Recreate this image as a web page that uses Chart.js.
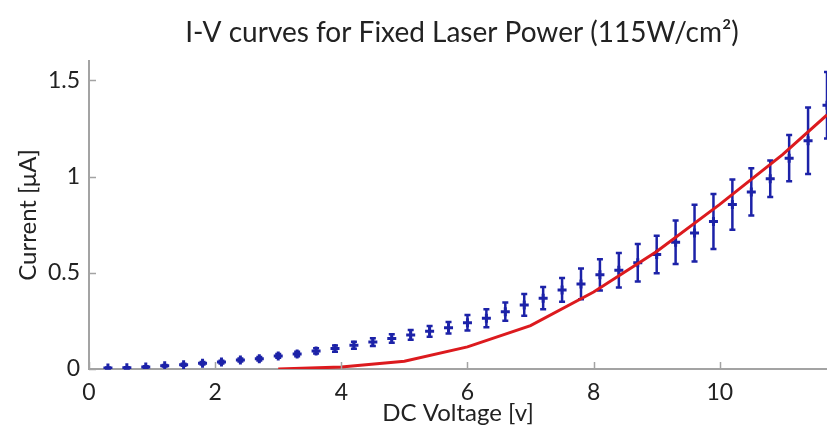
<!DOCTYPE html>
<html>
<head>
<meta charset="utf-8">
<title>I-V curves</title>
<script src="https://cdn.jsdelivr.net/npm/chart.js@4/dist/chart.umd.min.js"></script>
<style>
  html, body { margin: 0; padding: 0; background: #fff; }
  #chIV { display: block; }
</style>
</head>
<body>
<canvas id="chIV" width="827" height="435"></canvas>
<script>
// Medidas: corriente media y desviación por cada voltaje (pasos de 0.3 V)
const voltajes = [
  0.3, 0.6, 0.9, 1.2, 1.5, 1.8, 2.1, 2.4, 2.7, 3.0,
  3.3, 3.6, 3.9, 4.2, 4.5, 4.8, 5.1, 5.4, 5.7, 6.0,
  6.3, 6.6, 6.9, 7.2, 7.5, 7.8, 8.1, 8.4, 8.7, 9.0,
  9.3, 9.6, 9.9, 10.2, 10.5, 10.8, 11.1, 11.4, 11.7
];
const corrienteMedida = [
  0.005, 0.006, 0.010, 0.017, 0.022, 0.030, 0.036, 0.047, 0.053, 0.068,
  0.078, 0.094, 0.106, 0.123, 0.140, 0.158, 0.177, 0.196, 0.214, 0.240,
  0.264, 0.298, 0.333, 0.368, 0.411, 0.442, 0.489, 0.513, 0.552, 0.595,
  0.659, 0.706, 0.766, 0.854, 0.920, 0.988, 1.095, 1.186, 1.370
];
const errorMedida = [
  0.003, 0.003, 0.004, 0.004, 0.005, 0.006, 0.007, 0.008, 0.009, 0.010,
  0.012, 0.014, 0.016, 0.018, 0.020, 0.022, 0.025, 0.028, 0.030, 0.040,
  0.047, 0.047, 0.056, 0.058, 0.062, 0.080, 0.081, 0.090, 0.097, 0.097,
  0.113, 0.147, 0.143, 0.130, 0.123, 0.095, 0.120, 0.173, 0.173
];

// Curva del modelo
const voltajesModelo = [3, 4, 5, 6, 7, 8, 9, 10, 11, 11.7];
const corrienteModelo = [0, 0.01, 0.04, 0.115, 0.225, 0.40, 0.61, 0.855, 1.115, 1.32];

const xTicks = [0, 2, 4, 6, 8, 10];
const yTicks = [0, 0.5, 1, 1.5];

const AZUL = '#1c22a8';
const ROJO = '#dc1a1e';
const GRIS = '#a3a3a3';
const FUENTE = 'Lato, "Open Sans", sans-serif';

// Barras de error + ticks hacia adentro + título
const plugExtras = {
  id: 'extras',
  beforeDatasetsDraw(chart) {
    const { ctx, scales: { x, y } } = chart;
    ctx.save();
    ctx.strokeStyle = AZUL;
    ctx.lineWidth = 2.5;
    voltajes.forEach((v, i) => {
      const px = x.getPixelForValue(v);
      const top = y.getPixelForValue(corrienteMedida[i] + errorMedida[i]);
      const bot = y.getPixelForValue(corrienteMedida[i] - errorMedida[i]);
      ctx.beginPath();
      ctx.moveTo(px, top); ctx.lineTo(px, bot);
      ctx.moveTo(px - 3, top); ctx.lineTo(px + 3, top);
      ctx.moveTo(px - 3, bot); ctx.lineTo(px + 3, bot);
      ctx.stroke();
    });
    ctx.restore();
  },
  afterDraw(chart) {
    const { ctx, chartArea, scales: { x, y } } = chart;
    ctx.save();
    ctx.strokeStyle = GRIS;
    ctx.lineWidth = 1.5;
    ctx.beginPath();
    xTicks.forEach((v) => {
      const px = Math.round(x.getPixelForValue(v)) + 0.5;
      ctx.moveTo(px, chartArea.bottom); ctx.lineTo(px, chartArea.bottom - 7);
    });
    yTicks.forEach((v) => {
      const py = Math.round(y.getPixelForValue(v)) + 0.5;
      ctx.moveTo(chartArea.left, py); ctx.lineTo(chartArea.left + 7, py);
    });
    ctx.stroke();

    ctx.fillStyle = '#222';
    ctx.font = '28px ' + FUENTE;
    ctx.textAlign = 'center';
    ctx.textBaseline = 'middle';
    ctx.fillText('I-V curves for Fixed Laser Power (115W/cm²)',
      (chartArea.left + chartArea.right) / 2 + 4, 33);
    ctx.restore();
  }
};

const ptsMedida = voltajes.map((v, i) => ({ x: v, y: corrienteMedida[i] }));
const ptsModelo = voltajesModelo.map((v, i) => ({ x: v, y: corrienteModelo[i] }));

new Chart(document.getElementById('chIV'), {
  type: 'line',
  data: {
    datasets: [
      {
        label: 'Modelo',
        data: ptsModelo,
        borderColor: ROJO,
        borderWidth: 3,
        pointRadius: 0,
        tension: 0,
        order: 0
      },
      {
        label: 'Medida',
        data: ptsMedida,
        showLine: false,
        pointStyle: 'cross',
        pointRadius: 4.5,
        pointBorderWidth: 3,
        borderColor: AZUL,
        backgroundColor: AZUL,
        order: 1
      }
    ]
  },
  options: {
    responsive: false,
    animation: false,
    devicePixelRatio: 1,
    layout: { autoPadding: false, padding: { top: 61, right: 0, bottom: 0, left: 0 } },
    plugins: {
      legend: { display: false },
      tooltip: { enabled: false },
      title: { display: false }
    },
    scales: {
      x: {
        type: 'linear',
        min: 0,
        max: 11.7,
        afterBuildTicks: (s) => { s.ticks = xTicks.map((v) => ({ value: v })); },
        afterFit: (s) => { s.height = 66; },
        grid: { display: true, drawOnChartArea: false, drawTicks: false },
        border: { display: true, color: GRIS, width: 2 },
        ticks: { color: '#222', padding: 10, font: { family: FUENTE, size: 23 },
          callback: (v) => String(v) },
        title: {
          display: true,
          text: 'DC Voltage [v]',
          color: '#222',
          padding: { top: 0, bottom: 7 },
          font: { family: FUENTE, size: 24 }
        }
      },
      y: {
        type: 'linear',
        min: 0,
        max: 1.6,
        afterBuildTicks: (s) => { s.ticks = yTicks.map((v) => ({ value: v })); },
        afterFit: (s) => { s.width = 89; },
        grid: { display: true, drawOnChartArea: false, drawTicks: false },
        border: { display: true, color: GRIS, width: 2 },
        ticks: { color: '#222', padding: 9, font: { family: FUENTE, size: 23 },
          callback: (v) => String(v) },
        title: {
          display: true,
          text: 'Current [μA]',
          color: '#222',
          padding: { top: 14, bottom: 0 },
          font: { family: FUENTE, size: 24 }
        }
      }
    }
  },
  plugins: [plugExtras]
});
</script>
</body>
</html>
